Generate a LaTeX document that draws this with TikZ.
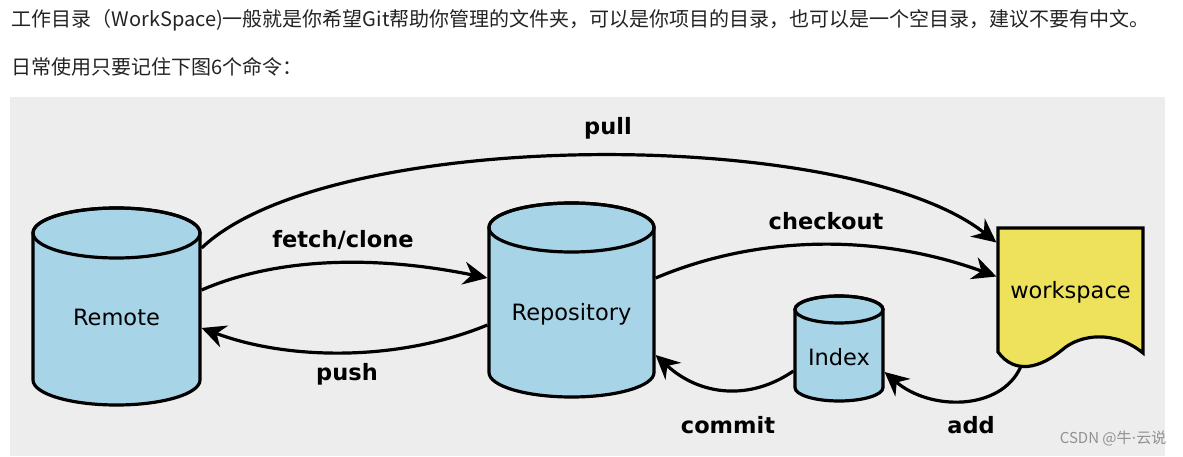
\documentclass[tikz,border=0pt]{standalone}
\usepackage{fontspec}
\setmainfont{DejaVu Sans}
\newfontfamily\cjkfont{Noto Sans CJK SC}
\usetikzlibrary{arrows.meta}
\definecolor{bggray}{RGB}{237,237,237}
\definecolor{cylblue}{RGB}{168,212,232}
\definecolor{wsyellow}{RGB}{238,226,92}
\definecolor{wmgray}{RGB}{145,145,145}
\definecolor{headtext}{RGB}{35,35,35}
\begin{document}
\begin{tikzpicture}[x=1pt,y=1pt,>={Stealth[length=24pt,width=23pt,inset=8pt]},line width=3.2pt,
    store/.style={fill=cylblue,draw=black,line width=3.2pt},
    storetext/.style={font=\fontsize{22.5}{27}\selectfont,inner sep=0pt,text height=16pt,text depth=0pt},
    cmdlabel/.style={font=\fontsize{22.5}{27}\selectfont\bfseries,inner sep=0pt},
    headline/.style={anchor=west,font=\cjkfont\fontsize{20}{24}\selectfont,text=headtext,inner sep=0pt}]
        \useasboundingbox (0,0) rectangle (1183,456);
        \fill[bggray] (10,0) rectangle (1165,359);
        \node[headline] (line1) at (10,436) {工作目录（WorkSpace)一般就是你希望Git帮助你管理的文件夹，可以是你项目的目录，也可以是一个空目录，建议不要有中文。};
        \node[headline] (line2) at (10,389) {日常使用只要记住下图6个命令：};
        \filldraw[store] (33,223)--(33,76) arc[start angle=180,end angle=360,x radius=83.5,y radius=25]--(200,223) arc[start angle=0,end angle=180,x radius=83.5,y radius=25]--cycle;
        \draw (116.5,223) ellipse[x radius=83.5,y radius=25];
        \filldraw[store] (489,228.5)--(489,83.5) arc[start angle=180,end angle=360,x radius=82.5,y radius=24.5]--(654,228.5) arc[start angle=0,end angle=180,x radius=82.5,y radius=24.5]--cycle;
        \draw (571.5,228.5) ellipse[x radius=82.5,y radius=24.5];
        \filldraw[store] (795,146.5)--(795,68.5) arc[start angle=180,end angle=360,x radius=44,y radius=13.5]--(883,146.5) arc[start angle=0,end angle=180,x radius=44,y radius=13.5]--cycle;
        \draw (839,146.5) ellipse[x radius=44,y radius=13.5];
        \filldraw[fill=wsyellow] (998,228)--(1143,228)--(1143,103) .. controls (1115,126) and (1080,122) .. (1062,106) .. controls (1040,88) and (1015,81) .. (998,104)--cycle;
        \node[storetext,minimum width=167pt] (remote) at (116.5,139) {Remote};
        \node[storetext,minimum width=165pt] (repo) at (571.5,144) {Repository};
        \node[storetext,minimum width=88pt] (index) at (839,99) {Index};
        \node[storetext,minimum width=145pt,minimum height=125pt] (ws) at (1070.5,165.5) {workspace};
        \draw[->] ([yshift=69pt]remote.east) .. controls (330,330) and (850,330) .. ([yshift=48pt]ws.west);
        \draw[->] ([yshift=27pt]remote.east) .. controls (280,200) and (380,200) .. ([yshift=34pt]repo.west);
        \draw[->] ([yshift=-13pt]repo.west) .. controls (400,95) and (290,95) .. ([yshift=-11pt]remote.east);
        \draw[->] ([yshift=34pt]repo.east) .. controls (760,222) and (880,222) .. ([yshift=14pt]ws.west);
        \draw[->] ([yshift=-14pt]index.west) .. controls (750,55) and (700,60) .. ([yshift=-43pt]repo.east);
        \draw[->] ([xshift=24pt,yshift=-13pt]ws.south west) .. controls (1000,45) and (930,45) .. ([yshift=-15pt]index.east);
        \node[cmdlabel] (pull) at (608,328) {pull};
        \node[cmdlabel] (fetch) at (343,216) {fetch/clone};
        \node[cmdlabel] (checkout) at (826,235) {checkout};
        \node[cmdlabel] (push) at (347,82) {push};
        \node[cmdlabel] (commit) at (728,31) {commit};
        \node[cmdlabel] (add) at (971,31) {add};
        \node[anchor=east,font=\cjkfont\fontsize{15}{18}\selectfont,text=wmgray,inner sep=0pt] (mark) at (1168,18) {CSDN @牛{\fontspec{DejaVu Sans}·}云说};
    \end{tikzpicture}
\end{document}
